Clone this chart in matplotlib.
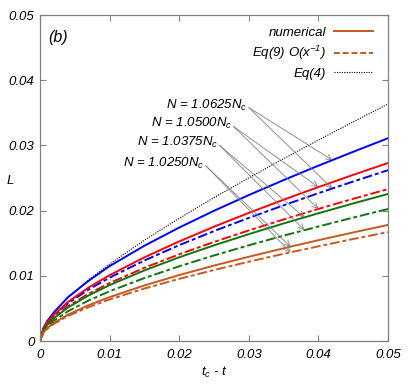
import numpy as np
import matplotlib
matplotlib.use('Agg')
import matplotlib.pyplot as plt
from matplotlib.lines import Line2D

plt.rcParams['font.family'] = ['Liberation Sans', 'DejaVu Sans']
plt.rcParams['font.style'] = 'italic'
plt.rcParams['font.size'] = 9.5
plt.rcParams['mathtext.fontset'] = 'custom'
plt.rcParams['mathtext.rm'] = 'Liberation Sans:italic'
plt.rcParams['mathtext.it'] = 'Liberation Sans:italic'

# tc - t sample points
tau = [0, 0.0005, 0.001, 0.002, 0.004, 0.007, 0.01, 0.015, 0.02, 0.025,
       0.03, 0.035, 0.04, 0.045, 0.05]

# Eq(4)
L_eq4 = [0, 0.00202, 0.00296, 0.00440, 0.00664, 0.00940, 0.01181, 0.01546,
         0.01881, 0.02199, 0.02502, 0.02796, 0.03082, 0.03361, 0.03635]

# numerical (solid) and Eq(9) (dash-dot) for each N/Nc
L_num_1p0625 = [0, 0.0020, 0.0030, 0.0044, 0.0067, 0.00925, 0.01149, 0.01461,
                0.01740, 0.01997, 0.02238, 0.02468, 0.02689, 0.02902, 0.0311]
L_eq9_1p0625 = [0, 0.00185, 0.0027, 0.0039, 0.00577, 0.00791, 0.00972, 0.01235,
                0.0147, 0.01686, 0.01888, 0.02081, 0.02267, 0.02446, 0.0262]
L_num_1p0500 = [0, 0.0019, 0.0028, 0.0040, 0.00598, 0.00821, 0.01009, 0.01283,
                0.01527, 0.01753, 0.01965, 0.02167, 0.02361, 0.02548, 0.0273]
L_eq9_1p0500 = [0, 0.0017, 0.0025, 0.0036, 0.00533, 0.00726, 0.00888, 0.01123,
                0.01329, 0.01519, 0.01696, 0.01864, 0.02026, 0.02181, 0.0233]
L_num_1p0375 = [0, 0.0017, 0.0024, 0.0035, 0.00513, 0.0070, 0.00857, 0.01083,
                0.01284, 0.01467, 0.01639, 0.01803, 0.01959, 0.0211, 0.02255]
L_eq9_1p0375 = [0, 0.0015, 0.00217, 0.00312, 0.00455, 0.00622, 0.00763, 0.00966,
                0.01146, 0.01312, 0.01468, 0.01616, 0.01756, 0.01893, 0.02025]
L_num_1p0250 = [0, 0.00133, 0.00192, 0.00277, 0.00403, 0.0055, 0.00673, 0.00852,
                0.01011, 0.01157, 0.01292, 0.01422, 0.01546, 0.01665, 0.0178]
L_eq9_1p0250 = [0, 0.00127, 0.00182, 0.00263, 0.00383, 0.0052, 0.00637, 0.00805,
                0.00953, 0.01089, 0.01216, 0.01337, 0.01452, 0.01564, 0.0167]

labels = ['N = 1.0625N$_c$', 'N = 1.0500N$_c$', 'N = 1.0375N$_c$', 'N = 1.0250N$_c$']
label_pos = [(0.0299, 0.0362), (0.0277, 0.0333), (0.0257, 0.0304), (0.0237, 0.0273)]
arrow_tau = [0.042, 0.040, 0.038, 0.036]

colors = ['#0000ff', '#ff0000', '#107510', '#c8581e']
num_curves = [L_num_1p0625, L_num_1p0500, L_num_1p0375, L_num_1p0250]
eq9_curves = [L_eq9_1p0625, L_eq9_1p0500, L_eq9_1p0375, L_eq9_1p0250]

fig = plt.figure(figsize=(4.13, 3.84), dpi=100)
ax = fig.add_axes([40/413, 1-341/384, 348/413, 326/384])

dd = (5, 1.5, 2, 1.5)
ax.plot(tau, L_eq4, color='black', lw=0.8, ls=(0, (1, 1.2)))
for c, yn, y9 in zip(colors, num_curves, eq9_curves):
    ax.plot(tau, yn, color=c, lw=1.4)
    ax.plot(tau, y9, color=c, lw=1.4, ls=(0, dd))

for lab, (lx, ly), at, yn, y9 in zip(labels, label_pos, arrow_tau, num_curves, eq9_curves):
    ax.text(lx - 0.0001, ly, lab, ha='right', va='center')
    for yy in (yn, y9):
        ax.annotate('', xy=(at, np.interp(at, tau, yy)), xytext=(lx + 0.0001, ly - 0.0004),
                    arrowprops=dict(arrowstyle='->', color='#808080', lw=0.6,
                                    shrinkA=0, shrinkB=0, mutation_scale=10))

ax.text(0.0012, 0.0465, '(b)', fontsize=11.5, ha='left', va='center')

handles = [Line2D([], [], color=colors[3], lw=1.4),
           Line2D([], [], color=colors[3], lw=1.4, ls=(0, (3, 1.5))),
           Line2D([], [], color='black', lw=0.8, ls=(0, (1, 1.2)))]
ax.legend(handles, ['numerical', 'Eq(9) O(x$^{-1}$)', 'Eq(4)'], loc='upper right',
          bbox_to_anchor=(0.99, 1.0), frameon=False, markerfirst=False,
          handlelength=2.9, labelspacing=0.38, handletextpad=0.6)

ax.set_xlim(0, 0.05)
ax.set_ylim(0, 0.05)
ax.set_xticks([0, 0.01, 0.02, 0.03, 0.04, 0.05])
ax.set_yticks([0, 0.01, 0.02, 0.03, 0.04, 0.05])
ax.set_xticklabels(['0', '0.01', '0.02', '0.03', '0.04', '0.05'])
ax.set_yticklabels(['0', '0.01', '0.02', '0.03', '0.04', '0.05'])
ax.tick_params(direction='in', top=True, right=True, length=4, width=0.8,
               color='#808080')
ax.tick_params(axis='x', pad=6)
ax.tick_params(axis='y', pad=4)
for s in ax.spines.values():
    s.set_color('#808080')
    s.set_linewidth(0.9)

ax.set_xlabel('t$_c$ - t', va='center')
ax.xaxis.set_label_coords(0.5, -0.095)
ax.set_ylabel('L', rotation=0, va='center', ha='center')
ax.yaxis.set_label_coords(-0.085, 0.49)

fig.savefig('out.png', dpi=100)
